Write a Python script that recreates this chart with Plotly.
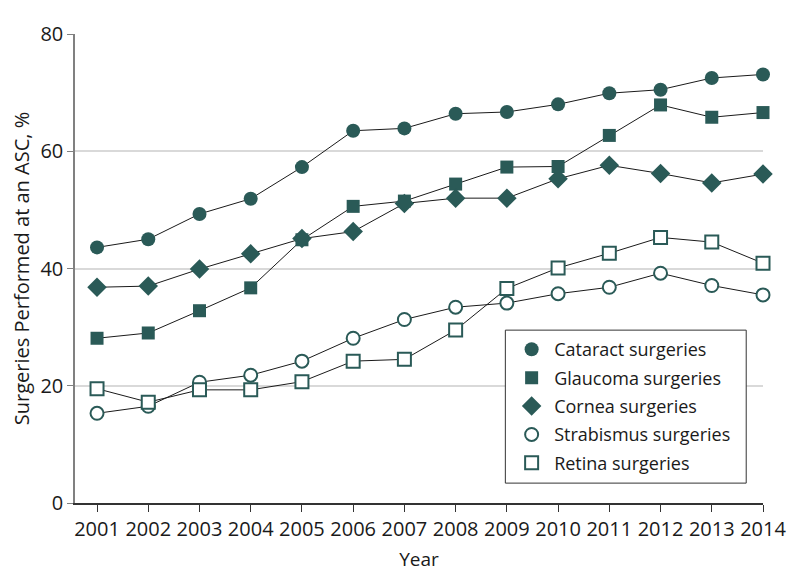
import plotly.graph_objects as go

years = list(range(2001, 2015))
cataract = [43.6, 45.0, 49.3, 51.9, 57.3, 63.5, 63.9, 66.4, 66.7, 68.0, 69.9, 70.5, 72.5, 73.1]
glaucoma = [28.1, 29.0, 32.8, 36.7, 44.9, 50.6, 51.5, 54.4, 57.3, 57.4, 62.7, 67.9, 65.8, 66.6]
cornea = [36.8, 37.0, 39.9, 42.5, 45.1, 46.3, 51.1, 52.0, 52.0, 55.3, 57.6, 56.2, 54.6, 56.1]
strabismus = [15.3, 16.5, 20.6, 21.8, 24.2, 28.1, 31.3, 33.4, 34.1, 35.7, 36.8, 39.2, 37.1, 35.5]
retina = [19.5, 17.2, 19.3, 19.3, 20.7, 24.2, 24.5, 29.5, 36.6, 40.1, 42.6, 45.3, 44.5, 40.9]

series_names = ["Cataract surgeries", "Glaucoma surgeries", "Cornea surgeries",
                "Strabismus surgeries", "Retina surgeries"]
y_ticks = [0, 20, 40, 60, 80]

teal = "#2a5a57"
font_family = "Open Sans, Noto Sans, sans-serif"

specs = [
    (cataract, "circle", 14, teal, 0),
    (glaucoma, "square", 13, teal, 0),
    (cornea, "diamond", 15, teal, 0),
    (strabismus, "circle", 13, "white", 2),
    (retina, "square", 13, "white", 2),
]

fig = go.Figure()
for name, (vals, sym, size, fill, lw) in zip(series_names, specs):
    mk = dict(symbol=sym, size=size, color=fill, line=dict(color=teal, width=lw))
    fig.add_trace(go.Scatter(
        x=years, y=vals, name=name, mode="lines+markers",
        line=dict(color="#1a1a1a", width=1),
        marker=mk, cliponaxis=False, showlegend=False, legendgroup=name,
    ))
    # legend entry showing only the marker symbol
    fig.add_trace(go.Scatter(
        x=[None], y=[None], name=name, mode="markers",
        marker=mk, showlegend=True, legendgroup=name,
    ))

# legend frame (wider than plotly's auto-sized legend box)
fig.add_shape(type="rect", xref="paper", yref="paper",
              x0=0.6255, x1=0.9756, y0=0.0424, y1=0.3686,
              line=dict(color="#333333", width=1), fillcolor="white", layer="above")

fig.update_layout(
    width=790, height=580,
    margin=dict(l=65, r=28, t=23, b=85),
    paper_bgcolor="white", plot_bgcolor="white",
    font=dict(family=font_family, size=18, color="#1a1a1a"),
    showlegend=True,
    legend=dict(
        x=0.631, y=0.3666, xanchor="left", yanchor="top",
        borderwidth=0, bgcolor="rgba(0,0,0,0)",
        font=dict(size=18), tracegroupgap=2, itemwidth=35,
    ),
    xaxis=dict(
        range=[2000.57, 2014.0], tickmode="array", tickvals=years,
        ticktext=[str(y) for y in years],
        showline=True, linecolor="#333333", linewidth=1.5,
        ticks="outside", ticklen=7, tickcolor="#333333",
        showgrid=False, zeroline=False,
        title=dict(text="Year", standoff=12, font=dict(size=19)),
        tickfont=dict(size=20),
    ),
    yaxis=dict(
        range=[0, 80], tickmode="array", tickvals=y_ticks,
        showline=True, linecolor="#808080", linewidth=1.5,
        ticks="outside", ticklen=6, tickcolor="#808080",
        showgrid=True, gridcolor="#d9d9d9", gridwidth=1.5,
        zeroline=False,
        title=dict(text="Surgeries Performed at an ASC, %", standoff=6, font=dict(size=20)),
        tickfont=dict(size=20),
    ),
)

fig.write_html("out.html")
